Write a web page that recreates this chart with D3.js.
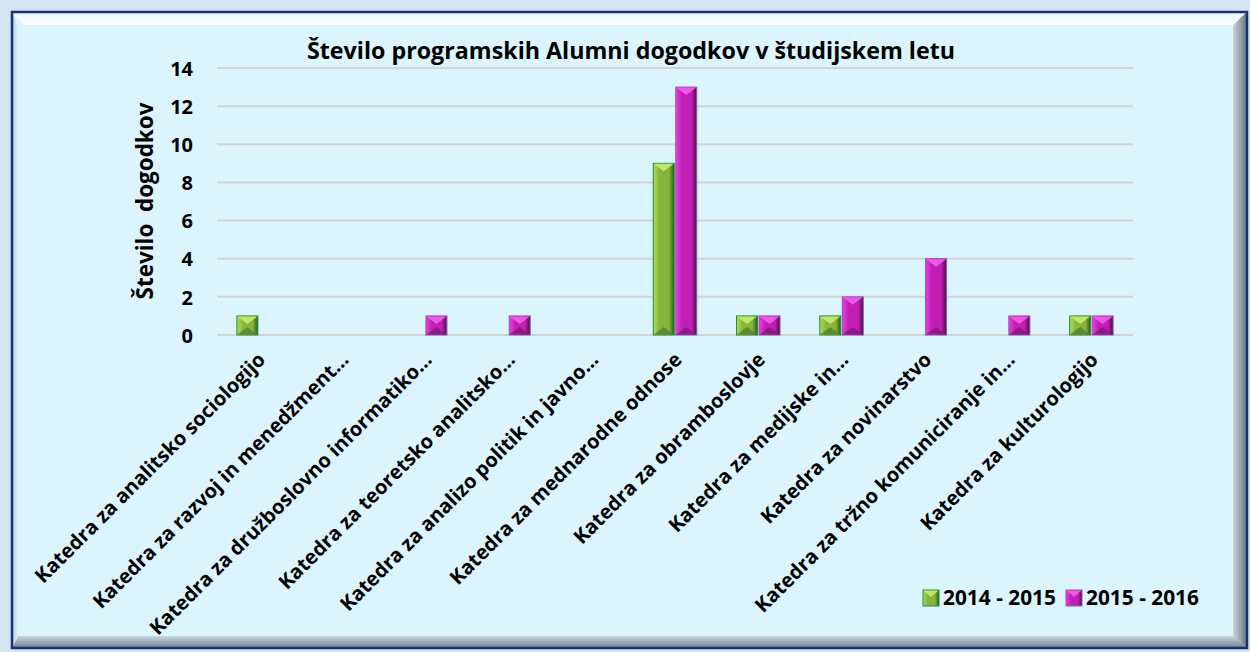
<!DOCTYPE html>
<html>
<head>
<meta charset="utf-8">
<script src="https://cdn.jsdelivr.net/npm/d3@7"></script>
<style>
  body { margin: 0; background: #d3e5f3; }
  svg { display: block; font-family: "Open Sans", Lato, sans-serif; font-weight: bold; }
</style>
</head>
<body>
<div class="chart"></div>
<script>
// data
var categories = [
  "Katedra za analitsko sociologijo",
  "Katedra za razvoj in menedžment…",
  "Katedra za družboslovno informatiko…",
  "Katedra za teoretsko analitsko…",
  "Katedra za analizo politik in javno…",
  "Katedra za mednarodne odnose",
  "Katedra za obramboslovje",
  "Katedra za medijske in…",
  "Katedra za novinarstvo",
  "Katedra za tržno komuniciranje in…",
  "Katedra za kulturologijo"
];
var seriesNames = ["2014 - 2015", "2015 - 2016"];
var values2014 = [1, 0, 0, 0, 0, 9, 1, 1, 0, 0, 1];
var values2015 = [0, 0, 1, 1, 0, 13, 1, 2, 4, 1, 1];
var yTicks = [0, 2, 4, 6, 8, 10, 12, 14];

var svgWidth = 1250, svgHeight = 652;
var chartMargin = { top: 68, left: 217, right: 117, bottom: 317 };
var chartWidth = svgWidth - chartMargin.left - chartMargin.right;
var chartHeight = svgHeight - chartMargin.top - chartMargin.bottom;

var svg = d3.select(".chart").append("svg")
    .attr("width", svgWidth)
    .attr("height", svgHeight);

var defs = svg.append("defs");

// make a text element span the width
function fitWidth(sel, target) {
  var size = +sel.attr("font-size");
  var len = sel.node().getComputedTextLength();
  sel.attr("font-size", (size * target / len).toFixed(2));
}

function linGrad(id, x1, y1, x2, y2, stops) {
  var g = defs.append("linearGradient").attr("id", id)
    .attr("x1", x1).attr("y1", y1).attr("x2", x2).attr("y2", y2);
  stops.forEach(function(s) {
    g.append("stop").attr("offset", s[0]).attr("stop-color", s[1]);
  });
}
// frame bevel
linGrad("bevTop", 0, 0, 0, 1, [[0, "#e8f6fc"], [1, "#ffffff"]]);
linGrad("bevBottom", 0, 0, 0, 1, [[0, "#c8d6de"], [1, "#6f7f8c"]]);
linGrad("bevRight", 0, 0, 1, 0, [[0, "#c8d6de"], [1, "#66747f"]]);
linGrad("bevLeft", 0, 0, 1, 0, [[0, "#b9ccd8"], [1, "#dcf4fe"]]);

var series = [
  { name: seriesNames[0], values: values2014,
    light: "#b2dc5c", mid: "#85b53a", dark: "#2f5a18", border: "#1f8f45", top: "#c8ea70", bottom: "#5a8428" },
  { name: seriesNames[1], values: values2015,
    light: "#ec3ee0", mid: "#c21db4", dark: "#4c0c48", border: "#8060a8", top: "#f060e4", bottom: "#8c1683" }
];
series.forEach(function(s, i) {
  linGrad("bar" + i, 0, 0, 1, 0, [[0, s.light], [0.3, s.mid], [0.75, s.mid], [1, s.dark]]);
});

// frame
var fx = 12, fy = 12, fw = 1235, fh = 636;
svg.append("rect").attr("x", fx).attr("y", fy).attr("width", fw).attr("height", fh)
    .attr("fill", "#dcf4fe");
svg.append("polygon")
    .attr("points", [[fx, fy], [fx + fw, fy], [fx + fw - 12, fy + 13], [fx + 12, fy + 13]].join(" "))
    .attr("fill", "url(#bevTop)");
svg.append("polygon")
    .attr("points", [[fx + fw, fy], [fx + fw, fy + fh], [fx + fw - 14, fy + fh - 12], [fx + fw - 14, fy + 13]].join(" "))
    .attr("fill", "url(#bevRight)");
svg.append("polygon")
    .attr("points", [[fx, fy + fh], [fx + fw, fy + fh], [fx + fw - 14, fy + fh - 12], [fx + 6, fy + fh - 12]].join(" "))
    .attr("fill", "url(#bevBottom)");
svg.append("polygon")
    .attr("points", [[fx, fy], [fx + 6, fy + 13], [fx + 6, fy + fh - 12], [fx, fy + fh]].join(" "))
    .attr("fill", "url(#bevLeft)");
svg.append("rect").attr("x", fx).attr("y", fy).attr("width", fw).attr("height", fh)
    .attr("fill", "none").attr("stroke", "#1b3270").attr("stroke-width", 2.5);

var chartGroup = svg.append("g")
    .attr("transform", `translate(${chartMargin.left}, ${chartMargin.top})`);

var xScale = d3.scaleBand()
    .domain(categories)
    .range([0, chartWidth])
    .paddingInner(0)
    .paddingOuter(0);

var yScale = d3.scaleLinear()
    .domain([0, 14])
    .range([chartHeight, 0]);

// gridlines
chartGroup.append("g")
    .selectAll("line")
    .data(yTicks)
    .enter()
    .append("line")
    .attr("x1", 0).attr("x2", chartWidth)
    .attr("y1", d => yScale(d)).attr("y2", d => yScale(d))
    .attr("stroke", "#d3d3d3")
    .attr("stroke-width", 2);

// y axis
var yAxis = d3.axisLeft(yScale).tickValues(yTicks).tickSize(0).tickPadding(24);
var yAxisG = chartGroup.append("g").call(yAxis);
yAxisG.select(".domain").remove();
yAxisG.selectAll("text")
    .attr("font-family", "'Open Sans', sans-serif")
    .attr("font-weight", "bold")
    .attr("font-size", 20)
    .attr("dy", "0.36em")
    .attr("fill", "#000");

// y axis title
var yTitle = svg.append("text")
    .attr("transform", "translate(153, 201) rotate(-90)")
    .attr("text-anchor", "middle")
    .attr("font-size", 20)
    .attr("fill", "#000")
    .attr("xml:space", "preserve")
    .text("Število  dogodkov");
fitWidth(yTitle, 197);

// title
var title = svg.append("text")
    .attr("x", 631)
    .attr("y", 59)
    .attr("text-anchor", "middle")
    .attr("font-size", 20)
    .attr("fill", "#000")
    .text("Število programskih Alumni dogodkov v študijskem letu");
fitWidth(title, 648);

// bars
var barW = 21, gap = 1.5;
series.forEach(function(s, i) {
  var rows = categories.map(function(c, j) { return { cat: c, v: s.values[j] }; })
      .filter(function(d) { return d.v > 0; });
  var groups = chartGroup.selectAll("g.bars" + i)
      .data(rows)
      .enter()
      .append("g")
      .attr("class", "bars" + i)
      .attr("transform", function(d) {
        var cx = xScale(d.cat) + xScale.bandwidth() / 2;
        var x = i === 0 ? cx - gap / 2 - barW : cx + gap / 2;
        return `translate(${x}, ${yScale(d.v)})`;
      });
  groups.append("rect")
      .attr("width", barW)
      .attr("height", d => yScale(0) - yScale(d.v))
      .attr("fill", "url(#bar" + i + ")")
      .attr("stroke", s.border)
      .attr("stroke-width", 1);
  // pyramid bevel top and bottom
  groups.append("polygon")
      .attr("points", d => [[0.5, 0.5], [barW - 0.5, 0.5], [barW / 2, Math.min(8, (yScale(0) - yScale(d.v)) / 2)]].join(" "))
      .attr("fill", s.top)
      .attr("opacity", 0.9);
  groups.append("polygon")
      .attr("points", d => {
        var h = yScale(0) - yScale(d.v);
        return [[0.5, h - 0.5], [barW - 0.5, h - 0.5], [barW / 2, h - Math.min(8, h / 2)]].join(" ");
      })
      .attr("fill", s.bottom)
      .attr("opacity", 0.85);
});

// x axis labels
var xLabels = chartGroup.append("g")
    .selectAll("text")
    .data(categories)
    .enter()
    .append("text")
    .attr("transform", d => `translate(${xScale(d) + xScale.bandwidth() / 2 + 8}, ${chartHeight + 26}) rotate(-45)`)
    .attr("text-anchor", "end")
    .attr("font-size", 18)
    .attr("fill", "#000")
    .text(d => d);
// first label runs about 316px along its diagonal in the reference
var xSize = 18 * 316 / xLabels.node().getComputedTextLength();
xLabels.attr("font-size", xSize.toFixed(2));

// legend
var legend = svg.append("g").attr("transform", "translate(923, 590)");
var lx = 0;
series.forEach(function(s, i) {
  var item = legend.append("g").attr("transform", `translate(${lx}, 0)`);
  item.append("rect").attr("width", 16).attr("height", 16)
      .attr("fill", "url(#bar" + i + ")").attr("stroke", s.border);
  item.append("polygon").attr("points", "0.5,0.5 15.5,0.5 8,7").attr("fill", s.top).attr("opacity", 0.9);
  var t = item.append("text").attr("x", 20).attr("y", 15)
      .attr("font-size", 19).attr("fill", "#000").text(s.name);
  fitWidth(t, 113);
  lx += 20 + 113 + 10;
});
</script>
</body>
</html>
